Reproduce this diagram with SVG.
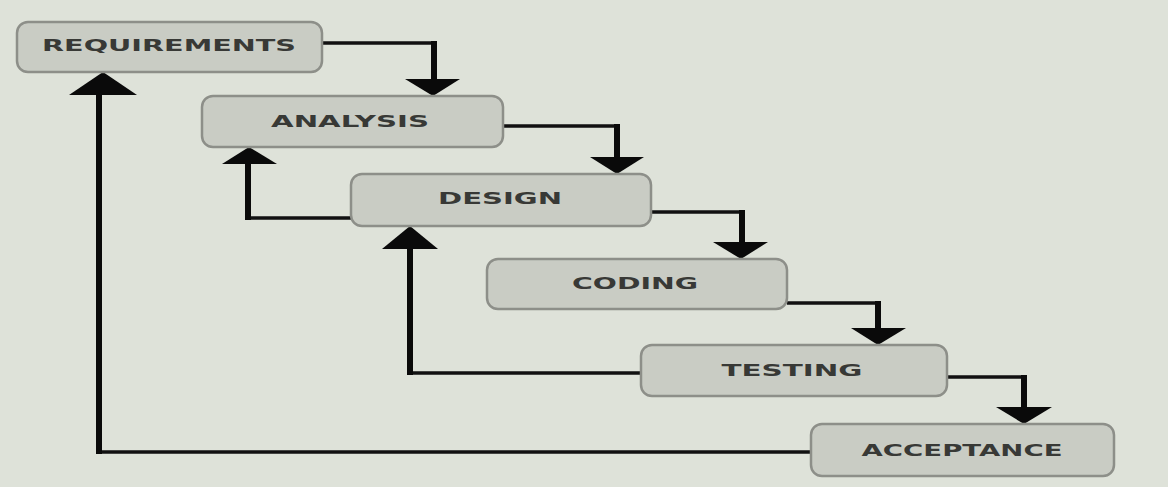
<svg xmlns="http://www.w3.org/2000/svg" width="1168" height="487" viewBox="0 0 1168 487">
<style>
.bg{fill:#dee2d9}
.box{fill:#c9ccc4;stroke:#8d8f89;stroke-width:2.5}
.lbl{font-family:"DejaVu Sans","Liberation Sans",sans-serif;font-weight:bold;font-size:15px;fill:#383936;text-anchor:middle;dominant-baseline:central}
.h{fill:none;stroke:#111;stroke-width:3.5}
.v{fill:none;stroke:#0a0a0a;stroke-width:6}
.ah{fill:#0a0a0a}
</style>
<rect class="bg" x="0" y="0" width="1168" height="487"/>
<g id="connectors">
  <!-- forward flow -->
  <path class="h" d="M322,43 H434"/><path class="v" d="M434,41 V81"/>
  <polygon class="ah" points="405,79 460,79 433,96"/>
  <path class="h" d="M503,126 H617"/><path class="v" d="M617,124 V158"/>
  <polygon class="ah" points="590,157 644,157 617,174"/>
  <path class="h" d="M651,212 H742"/><path class="v" d="M742,210 V243"/>
  <polygon class="ah" points="713,242 768,242 741,259"/>
  <path class="h" d="M787,303 H878"/><path class="v" d="M878,301 V330"/>
  <polygon class="ah" points="851,328 906,328 878,345"/>
  <path class="h" d="M947,377 H1024"/><path class="v" d="M1024,375 V409"/>
  <polygon class="ah" points="996,407 1052,407 1024,424"/>
  <!-- feedback -->
  <path class="h" d="M351,218 H248"/><path class="v" d="M248,220 V162"/>
  <polygon class="ah" points="222,164 277,164 249,147"/>
  <path class="h" d="M641,373 H410"/><path class="v" d="M410,375 V246"/>
  <polygon class="ah" points="382,249 438,249 410,226"/>
  <path class="h" d="M811,452 H99"/><path class="v" d="M99,454 V93"/>
  <polygon class="ah" points="69,95 137,95 103,72"/>
</g>
<g id="requirements">
  <rect class="box" x="17" y="22" width="305" height="50" rx="11"/>
  <text class="lbl" x="169" y="46" textLength="254" lengthAdjust="spacingAndGlyphs">REQUIREMENTS</text>
</g>
<g id="analysis">
  <rect class="box" x="202" y="96" width="301" height="51" rx="11"/>
  <text class="lbl" x="350" y="122" textLength="158" lengthAdjust="spacingAndGlyphs">ANALYSIS</text>
</g>
<g id="design">
  <rect class="box" x="351" y="174" width="300" height="52" rx="11"/>
  <text class="lbl" x="500" y="199" textLength="124" lengthAdjust="spacingAndGlyphs">DESIGN</text>
</g>
<g id="coding">
  <rect class="box" x="487" y="259" width="300" height="50" rx="11"/>
  <text class="lbl" x="635" y="284" textLength="126" lengthAdjust="spacingAndGlyphs">CODING</text>
</g>
<g id="testing">
  <rect class="box" x="641" y="345" width="306" height="51" rx="11"/>
  <text class="lbl" x="792" y="371" textLength="141" lengthAdjust="spacingAndGlyphs">TESTING</text>
</g>
<g id="acceptance">
  <rect class="box" x="811" y="424" width="303" height="52" rx="11"/>
  <text class="lbl" x="962" y="451" textLength="201" lengthAdjust="spacingAndGlyphs">ACCEPTANCE</text>
</g>
</svg>
